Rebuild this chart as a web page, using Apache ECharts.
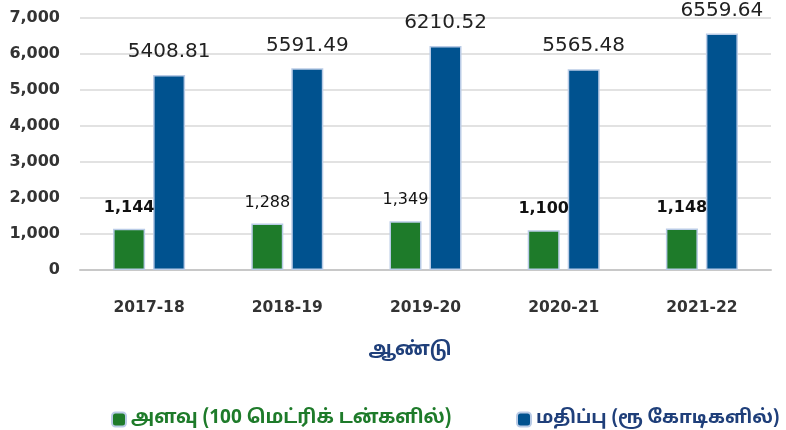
<!DOCTYPE html>
<html>
<head>
<meta charset="utf-8">
<script src="https://cdn.jsdelivr.net/npm/echarts@6/dist/echarts.min.js"></script>
<style>html,body{margin:0;padding:0;background:#fff}#c{width:786px;height:430px}</style>
</head>
<body>
<div id="c"></div>
<script>
const categories = ['2017-18', '2018-19', '2019-20', '2020-21', '2021-22'];
const quantity = [1144, 1288, 1349, 1100, 1148];
const value = [5408.81, 5591.49, 6210.52, 5565.48, 6559.64];
const yTicks = [0, 1000, 2000, 3000, 4000, 5000, 6000, 7000];
const seriesNames = ['அளவு (100 மெட்ரிக் டன்களில்)', 'மதிப்பு (ரூ கோடிகளில்)'];
const axisTitle = 'ஆண்டு';

const boldIdx = [0, 3, 4];
const numFont = 'DejaVu Sans';
const tamilFont = '"Noto Sans Tamil", "Lohit Tamil", "Noto Sans", sans-serif';

const chart = echarts.init(document.getElementById('c'));
chart.setOption({
  animation: false,
  grid: { left: 80, right: 15, top: 17.5, bottom: 160 },
  legend: [
    {
      data: [seriesNames[0]], left: 106, top: 405, itemWidth: 14, itemHeight: 14, itemGap: 10,
      textStyle: { color: '#1e7b2a', fontSize: 19, fontWeight: 'bold', fontFamily: tamilFont }
    },
    {
      data: [seriesNames[1]], left: 511, top: 405, itemWidth: 14, itemHeight: 14, itemGap: 10,
      textStyle: { color: '#1f3f7a', fontSize: 18.5, fontWeight: 'bold', fontFamily: tamilFont }
    }
  ],
  xAxis: {
    type: 'category',
    data: categories,
    name: axisTitle,
    nameLocation: 'middle',
    nameGap: 72,
    nameTextStyle: { color: '#1f3f7a', fontSize: 19, fontWeight: 'bold', fontFamily: tamilFont, padding: [0, 31, 0, 0] },
    axisLine: { lineStyle: { color: '#c8c8c8', width: 2 } },
    axisTick: { show: false },
    axisLabel: { margin: 30, color: '#333', fontSize: 15.5, fontWeight: 'bold', fontFamily: numFont }
  },
  yAxis: {
    type: 'value',
    min: yTicks[0],
    max: yTicks[yTicks.length - 1],
    interval: yTicks[1] - yTicks[0],
    axisLine: { show: false },
    axisTick: { show: false },
    splitLine: { lineStyle: { color: '#d9d9d9', width: 1.5 } },
    axisLabel: {
      margin: 20, color: '#333', fontSize: 16, fontWeight: 'bold', fontFamily: numFont,
      formatter: v => v.toLocaleString('en-US')
    }
  },
  series: [
    {
      name: seriesNames[0],
      type: 'bar',
      barWidth: 32,
      barGap: '25%',
      data: quantity.map((v, i) => ({
        value: v,
        label: { fontWeight: boldIdx.includes(i) ? 'bold' : 'normal' }
      })),
      itemStyle: { color: '#1e7b2a', borderColor: '#b9cbe6', borderWidth: 1.5 },
      label: {
        show: true, position: 'top', distance: 13, color: '#111', fontSize: 16, fontFamily: numFont,
        formatter: p => p.value.toLocaleString('en-US')
      }
    },
    {
      name: seriesNames[1],
      type: 'bar',
      barWidth: 32,
      data: value,
      itemStyle: { color: '#00528f', borderColor: '#b9cbe6', borderWidth: 1.5 },
      label: {
        show: true, position: 'top', distance: 13, color: '#222', fontSize: 20, fontFamily: numFont,
        formatter: p => p.value.toFixed(2)
      }
    }
  ]
});
</script>
</body>
</html>
